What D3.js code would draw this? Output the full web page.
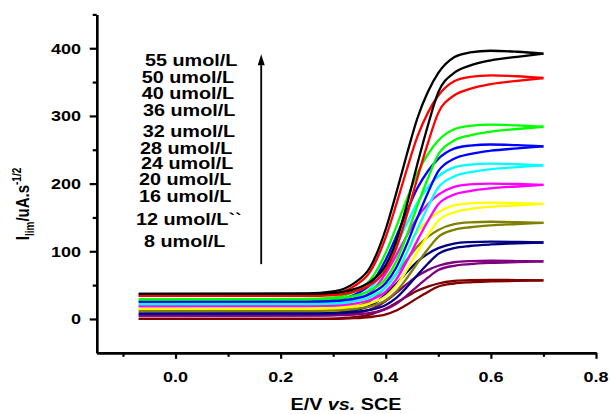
<!DOCTYPE html>
<html><head><meta charset="utf-8">
<script src="https://cdn.jsdelivr.net/npm/d3@7"></script>
<style>
html,body{margin:0;padding:0;background:#fff;}
svg{display:block;}
text{font-family:"Liberation Sans",Arial,sans-serif;font-weight:bold;fill:#000;}
</style></head>
<body>
<svg id="c" width="610" height="414"></svg>
<script>
// ---- data ----
const potentials = [-0.07, 0.25, 0.3, 0.34, 0.37, 0.4, 0.42, 0.44, 0.46, 0.48, 0.5, 0.53, 0.56, 0.6, 0.65, 0.7];
const concLabels = ["55 umol/L","50 umol/L","40 umol/L","36 umol/L","32 umol/L","28 umol/L","24 umol/L","20 umol/L","16 umol/L","12 umol/L``","8 umol/L"];
const seriesColors = ["#000000","#ff0000","#00ff00","#0000ff","#00ffff","#ff00ff","#ffff00","#808000","#000080","#800080","#800000"];
const yTicks = [0,100,200,300,400];
const yMinor = [50,150,250,350,450];
const xTicks = [0,0.2,0.4,0.6,0.8];
const xMinor = [-0.1,0.1,0.3,0.5,0.7];

// reverse sweep (earlier rise, upper branch)
const up55 = [37,37.7,40.6,53.0,76.1,132.9,186.1,242.9,296.2,335.2,363.6,386.7,393.8,396.3,394.8,392];
const up50 = [34,34.6,37.2,48.5,69.4,120.9,169.2,220.8,269.1,304.5,330.2,351.2,357.6,359.9,358.6,356];
const up40 = [29,29.5,31.6,40.5,57.1,97.9,136.1,176.9,215.2,243.2,263.6,280.2,285.3,287.1,286.0,284];
const up36 = [25.5,26.0,27.8,35.8,50.7,87.5,121.9,158.6,193.0,218.3,236.6,251.6,256.1,257.8,256.8,255];
const up32 = [22,22.4,24.1,31.2,44.6,77.4,108.1,140.9,171.7,194.2,210.6,223.9,228.0,229.5,228.6,227];
const up28 = [19,19.4,20.8,27.1,38.7,67.3,94.2,122.8,149.7,169.4,183.7,195.3,198.9,200.1,199.4,198];
const up24 = [15,15.3,16.6,22.0,32.1,56.9,80.1,104.9,128.2,145.2,157.6,167.7,170.8,171.9,171.2,170];
const up20 = [12,12.3,13.3,17.9,26.3,47.1,66.6,87.4,106.9,121.2,131.6,140.1,142.7,143.6,143.0,142];
const up16 = [8,8.2,9.1,12.7,19.6,36.4,52.1,68.9,84.7,96.2,104.6,111.4,113.5,114.3,113.8,113];
const up12 = [5,5.2,5.8,8.6,13.8,26.6,38.6,51.4,63.4,72.2,78.6,83.8,85.4,86.0,85.6,85];
const up8  = [0,0.1,0.6,2.6,6.3,15.4,23.9,33.1,41.6,47.9,52.4,56.1,57.3,57.7,57.5,57];
// forward sweep (later rise, lower branch)
const dn55 = [37,37,38.4,44.1,54.8,79.6,115.1,168.4,228.7,285.5,335.2,363.6,374.3,382.1,387.4,392];
const dn50 = [34,34,35.3,40.4,50.1,72.6,104.8,153.1,207.9,259.4,304.5,330.2,339.9,347.0,351.8,356];
const dn40 = [29,29,30.0,34.1,41.8,59.6,85.1,123.4,166.7,207.5,243.2,263.6,271.3,276.9,280.7,284];
const dn36 = [25.5,25.5,26.4,30.1,37.0,53.0,76.0,110.4,149.4,186.2,218.3,236.6,243.5,248.6,252.0,255];
const dn32 = [22,22,22.8,26.1,32.3,46.6,67.1,97.9,132.7,165.5,194.2,210.6,216.8,221.3,224.3,227];
const dn28 = [19,19,19.7,22.6,28.0,40.5,58.4,85.2,115.7,144.3,169.4,183.7,189.0,193.0,195.7,198];
const dn24 = [15,15,15.6,18.1,22.8,33.6,49.1,72.4,98.7,123.5,145.2,157.6,162.3,165.7,168.0,170];
const dn20 = [12,12,12.5,14.6,18.5,27.6,40.6,60.1,82.2,103.0,121.2,131.6,135.5,138.4,140.3,142];
const dn16 = [8,8,8.4,10.1,13.3,20.6,31.1,46.9,64.7,81.5,96.2,104.6,107.8,110.1,111.6,113];
const dn12 = [5,5,5.3,6.6,9.0,14.6,22.6,34.6,48.2,61.0,72.2,78.6,81.0,82.8,84.0,85];
const dn8  = [0,0,0.2,1.1,2.9,6.8,12.5,21.1,30.8,39.9,47.9,52.4,54.2,55.4,56.3,57];

const upper = [up55,up50,up40,up36,up32,up28,up24,up20,up16,up12,up8];
const lower = [dn55,dn50,dn40,dn36,dn32,dn28,dn24,dn20,dn16,dn12,dn8];

// ---- layout ----
const svg = d3.select("#c");
const X0 = 96.7, X1 = 596, Y0 = 352.8, Y1 = 14.4;
const x = d3.scaleLinear().domain([-0.15, 0.8]).range([X0, X1]);
const y = d3.scaleLinear().domain([-50, 450]).range([Y0, Y1]);
const SX = 1.2; // horizontal stretch of glyphs in reference

// curves
const line = d3.line().x(d => x(d[0])).y(d => y(d[1])).curve(d3.curveMonotoneX);
const gCurves = svg.append("g");
for (let i = upper.length - 1; i >= 0; i--) {
  [lower[i], upper[i]].forEach(arr => {
    gCurves.append("path")
      .datum(potentials.map((p, k) => [p, arr[k]]))
      .attr("d", line)
      .attr("fill", "none")
      .attr("stroke", seriesColors[i])
      .attr("stroke-width", 2.3)
      .attr("stroke-linejoin", "round");
  });
}

// axes
function styleAxis(g) {
  g.selectAll("path.domain").attr("stroke", "#000").attr("stroke-width", 2.4);
  g.selectAll(".tick line").attr("stroke", "#000").attr("stroke-width", 2.2);
  g.selectAll(".tick text").remove();
}
svg.append("g").attr("transform", `translate(0,${Y0})`)
  .call(d3.axisBottom(x).tickValues(xTicks).tickSize(6).tickSizeOuter(0)).call(styleAxis);
svg.append("g").attr("transform", `translate(0,${Y0})`)
  .call(d3.axisBottom(x).tickValues(xMinor).tickSize(4).tickSizeOuter(0)).call(styleAxis);
svg.append("g").attr("transform", `translate(${X0},0)`)
  .call(d3.axisLeft(y).tickValues(yTicks).tickSize(7).tickSizeOuter(0)).call(styleAxis);
svg.append("g").attr("transform", `translate(${X0},0)`)
  .call(d3.axisLeft(y).tickValues(yMinor).tickSize(4).tickSizeOuter(0)).call(styleAxis);

// tick labels
svg.append("g").selectAll("text").data(xTicks).join("text")
  .attr("transform", d => `translate(${x(d)},382) scale(${SX},1)`)
  .attr("text-anchor", "middle").attr("font-size", 15)
  .text(d3.format(".1f"));
svg.append("g").selectAll("text").data(yTicks).join("text")
  .attr("transform", d => `translate(81,${y(d) + 5.4}) scale(${SX},1)`)
  .attr("text-anchor", "end").attr("font-size", 15)
  .text(d => d);

// axis titles
const xt = svg.append("text")
  .attr("transform", `translate(346,410) scale(${SX},1)`)
  .attr("text-anchor", "middle").attr("font-size", 16.5);
xt.append("tspan").text("E/V ");
xt.append("tspan").attr("font-style", "italic").text("vs.");
xt.append("tspan").text(" SCE");

const yt = svg.append("text")
  .attr("transform", `translate(29,204) scale(${SX},1) rotate(-90)`)
  .attr("text-anchor", "middle").attr("font-size", 15);
yt.append("tspan").text("I");
yt.append("tspan").attr("font-size", 10).attr("dy", 4).text("lim");
yt.append("tspan").attr("dy", -4).text("/uA.s");
yt.append("tspan").attr("font-size", 10).attr("dy", -7).text("-1/2");

// concentration labels
const labelX = [145,141.7,141.7,143,142.7,140,141,139,139,136,144];
const labelY = [66,83,99,116,137,154,169,185,202,225,247];
svg.append("g").selectAll("text").data(concLabels).join("text")
  .attr("transform", (d, i) => `translate(${labelX[i]},${labelY[i]}) scale(${SX},1)`)
  .attr("font-size", 16.5)
  .text(d => d);

// arrow
const ax = x(0.163);
svg.append("line").attr("x1", ax).attr("x2", ax).attr("y1", y(81)).attr("y2", y(375))
  .attr("stroke", "#000").attr("stroke-width", 1.8);
const tip = y(391);
svg.append("path").attr("d", `M${ax},${tip} L${ax-3.5},${tip+11} L${ax+3.5},${tip+11} Z`).attr("fill", "#000");
</script>
</body></html>
